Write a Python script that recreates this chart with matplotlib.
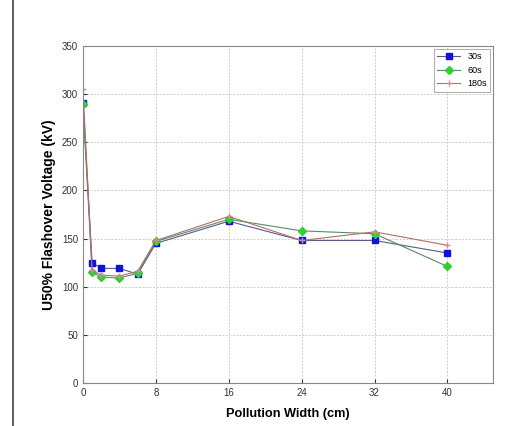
import numpy as np
import matplotlib
matplotlib.use("Agg")
import matplotlib.pyplot as plt
from matplotlib.lines import Line2D

plt.rcParams['font.family'] = ['Liberation Sans', 'DejaVu Sans']

width = [0, 1, 2, 4, 6, 8, 16, 24, 32, 40]
v30 = [291, 125, 119, 119, 113, 145, 168, 148, 148, 135]
v60 = [290, 115, 110, 109, 114, 147, 170, 158, 155, 121]
v180 = [305, 117, 112, 111, 116, 148, 173, 148, 157, 143]
labels = ['30s', '60s', '180s']
xticks = [0, 8, 16, 24, 32, 40]
yticks = [0, 50, 100, 150, 200, 250, 300, 350]

fig = plt.figure(figsize=(5.3, 4.26), dpi=100)
ax = fig.add_axes([0.1566, 0.101, 0.7736, 0.791])

ax.plot(width, v30, '-s', color='#5a5a8a', mfc='#1010e0', mec='#1010e0',
        ms=4, lw=0.8, label=labels[0])
ax.plot(width, v60, '-D', color='#5a8a6a', mfc='#30d030', mec='#30d030',
        ms=4, lw=0.8, label=labels[1])
ax.plot(width, v180, '-+', color='#b07068', mfc='#e08080', mec='#d09090',
        ms=5, lw=0.8, label=labels[2])

ax.set_xlim(0, 45)
ax.set_ylim(0, 350)
ax.set_xticks(xticks)
ax.set_yticks(yticks)
ax.tick_params(labelsize=7, direction='in', length=3, colors='#333333')
ax.grid(True, color='#bbbbbb', ls=(0, (3, 2)), lw=0.5)
for s in ax.spines.values():
    s.set_color('#888888')
    s.set_linewidth(0.8)

ax.set_xlabel('Pollution Width (cm)', fontsize=9.2, fontweight='bold', labelpad=7)
ax.set_ylabel('U50% Flashover Voltage (kV)', fontsize=10, fontweight='bold')

leg = ax.legend(loc='upper right', fontsize=6.5, frameon=True, fancybox=False,
                borderaxespad=0.3, handlelength=2.5)
leg.get_frame().set_edgecolor('#888888')
leg.get_frame().set_linewidth(0.6)

# page border on the left
fig.add_artist(Line2D([13 / 530, 13 / 530], [0, 1], color='#444444', lw=1.2,
                      transform=fig.transFigure))

fig.savefig('out.png', dpi=100)
